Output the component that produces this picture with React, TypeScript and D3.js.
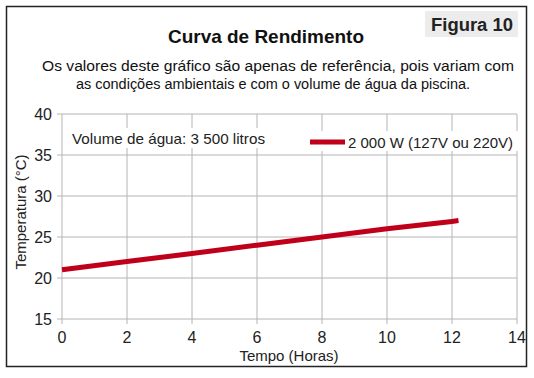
import React from "react";
import * as d3 from "d3";

const hours = [0, 2, 4, 6, 8, 10, 12, 12.2];
const temps = [21, 22, 23, 24, 25, 26, 26.9, 27];
const xTicks = [0, 2, 4, 6, 8, 10, 12, 14];
const yTicks = [15, 20, 25, 30, 35, 40];
const seriesName = "2 000 W (127V ou 220V)";
const volumeNote = "Volume de água: 3 500 litros";

export default function App() {
  const W = 534, H = 378;
  const x = d3.scaleLinear().domain([0, 14]).range([62, 517]);
  const y = d3.scaleLinear().domain([15, 40]).range([319, 114]);
  const line = d3.line<number>().x((_, i) => x(hours[i])).y((d) => y(d));
  const font = "'Liberation Sans', Arial, sans-serif";
  return (
    <svg width={W} height={H} style={{ position: "absolute", left: 0, top: 0 }} fontFamily={font}>
      <rect x={0} y={0} width={W} height={H} fill="#fff" />
      <rect x={6.5} y={6.5} width={520} height={360} fill="none" stroke="#222" strokeWidth={1.5} />
      <rect x={425} y={11} width={93} height={26} fill="#ececec" />
      <text x={472} y={31} textAnchor="middle" fontSize={18} fontWeight="bold" fill="#222" textLength={82} lengthAdjust="spacingAndGlyphs">Figura 10</text>
      <text x={266} y={43} textAnchor="middle" fontSize={18.5} fontWeight="bold" fill="#111" textLength={196} lengthAdjust="spacingAndGlyphs">Curva de Rendimento</text>
      <text x={278} y={71} textAnchor="middle" fontSize={15.5} fill="#111" textLength={472} lengthAdjust="spacingAndGlyphs">Os valores deste gráfico são apenas de referência, pois variam com</text>
      <text x={273} y={89} textAnchor="middle" fontSize={15.5} fill="#111" textLength={394} lengthAdjust="spacingAndGlyphs">as condições ambientais e com o volume de água da piscina.</text>
      {xTicks.map((t) => (
        <line key={"vx" + t} x1={x(t)} x2={x(t)} y1={y(40)} y2={y(15) + 5} stroke="#b4b4b4" strokeWidth={1} />
      ))}
      {yTicks.map((t) => (
        <line key={"hy" + t} x1={x(0) - 5} x2={x(14)} y1={y(t)} y2={y(t)} stroke="#b4b4b4" strokeWidth={1} />
      ))}
      {yTicks.map((t) => (
        <text key={"yl" + t} x={52} y={y(t) + 6} textAnchor="end" fontSize={16} fill="#222">{t}</text>
      ))}
      {xTicks.map((t) => (
        <text key={"xl" + t} x={x(t)} y={343} textAnchor="middle" fontSize={16} fill="#222">{t}</text>
      ))}
      <text x={289} y={361} textAnchor="middle" fontSize={15} fill="#222">Tempo (Horas)</text>
      <text transform={`translate(26,212) rotate(-90)`} textAnchor="middle" fontSize={15} fill="#222">Temperatura (°C)</text>
      <rect x={70} y={128} width={200} height={20} fill="#fff" />
      <text x={72} y={144} fontSize={15} fill="#222" textLength={193} lengthAdjust="spacingAndGlyphs">{volumeNote}</text>
      <rect x={306} y={131} width={212} height={20} fill="#fff" />
      <line x1={310} x2={345} y1={142} y2={142} stroke="#c0001a" strokeWidth={5} />
      <text x={348} y={148} fontSize={15} fill="#222">{seriesName}</text>
      <path d={line(temps) || ""} fill="none" stroke="#c0001a" strokeWidth={5} />
    </svg>
  );
}
